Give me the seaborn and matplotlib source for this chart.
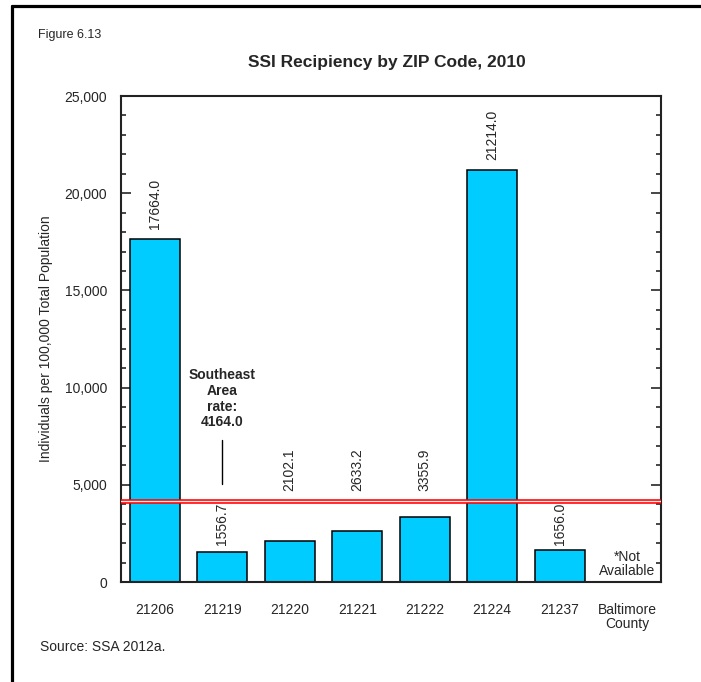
import numpy as np
import pandas as pd
import matplotlib
matplotlib.use('Agg')
import matplotlib.pyplot as plt
import seaborn as sns
from matplotlib.ticker import MultipleLocator, FuncFormatter
from matplotlib.lines import Line2D

# data
zips = ['21206', '21219', '21220', '21221', '21222', '21224', '21237', 'Baltimore\nCounty']
rates = [17664.0, 1556.7, 2102.1, 2633.2, 3355.9, 21214.0, 1656.0, np.nan]
area_rate = 4164.0

df = pd.DataFrame({'Zip': zips, 'Rate': rates})

# where each value label starts (data units), labels are hand placed in the original
label_base = [18150, 1930, 4660, 4660, 4660, 21700, 1930]

sns.set_style('white')
plt.rcParams['font.family'] = ['Liberation Sans', 'DejaVu Sans']

fig = plt.figure(figsize=(7.01, 6.82), dpi=100)
ax = fig.add_axes([0.1726, 0.1466, 0.7703, 0.7126])

sns.barplot(data=df, x='Zip', y='Rate', order=zips, color='#00CCFF', saturation=1,
            edgecolor='black', linewidth=1.1, width=0.74, ax=ax)

# southeast area rate line (double red line)
ax.axhline(area_rate, color='#FF0000', lw=3.3, zorder=5)
ax.axhline(area_rate, color='#FFE8E8', lw=1.0, zorder=6)

for i, v in enumerate(rates):
    if np.isnan(v):
        continue
    ax.text(i, label_base[i], f'{v:.1f}', rotation=90, ha='center', va='bottom', fontsize=10)

ax.text(1, 7850, 'Southeast\nArea\nrate:\n4164.0', ha='center', va='bottom',
        fontsize=10, fontweight='bold', linespacing=1.15)
ax.plot([1, 1], [5020, 7320], color='black', lw=1)
ax.text(7, 925, '*Not\nAvailable', ha='center', va='center', fontsize=10, linespacing=1.05)

ax.set_xlim(-0.5, 7.5)
ax.set_ylim(0, 25000)
ax.yaxis.set_major_locator(MultipleLocator(5000))
ax.yaxis.set_minor_locator(MultipleLocator(1000))
ax.yaxis.set_major_formatter(FuncFormatter(lambda v, p: f'{int(v):,}'))
ax.tick_params(axis='y', which='major', direction='in', length=7, width=1.2,
               left=True, right=True, labelsize=10, pad=10)
ax.tick_params(axis='y', which='minor', direction='in', length=3.5, width=1.2,
               left=True, right=True)
ax.tick_params(axis='x', length=0, labelsize=10, pad=15)
for lab in ax.get_xticklabels():
    lab.set_linespacing(1.05)
ax.set_xlabel('')
ax.set_ylabel('Individuals per 100,000 Total Population', fontsize=10, labelpad=8)
for s in ax.spines.values():
    s.set_color('#222222')
    s.set_linewidth(1.5)

fig.text(0.552, 0.908, 'SSI Recipiency by ZIP Code, 2010', ha='center', va='center',
         fontsize=12.5, fontweight='bold')
fig.text(0.054, 0.949, 'Figure 6.13', ha='left', va='center', fontsize=9)
fig.text(0.057, 0.051, 'Source: SSA 2012a.', ha='left', va='center', fontsize=10)

# partial frame around the figure (top and left)
fig.add_artist(Line2D([0.017, 1.0], [0.991, 0.991], color='black', lw=2.3, transform=fig.transFigure))
fig.add_artist(Line2D([0.017, 0.017], [0.0, 0.991], color='black', lw=2.3, transform=fig.transFigure))

fig.savefig('out.png', dpi=100)
